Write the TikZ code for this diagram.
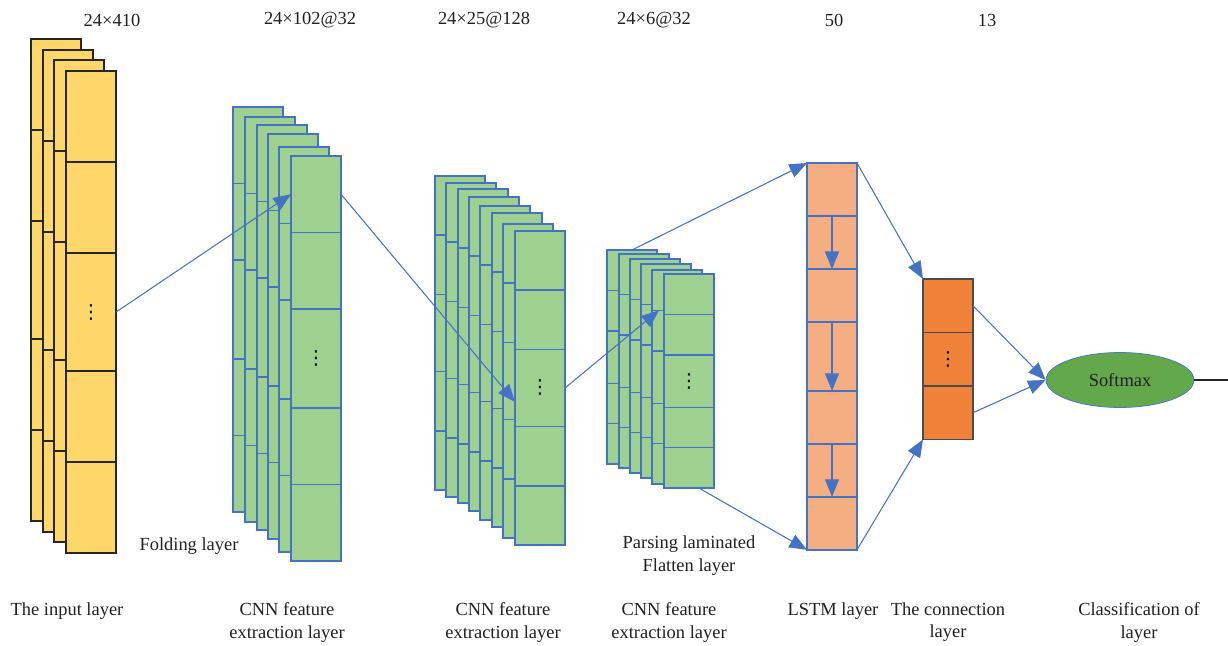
\documentclass[tikz,border=0pt]{standalone}
\usepackage{fontspec}
\setmainfont{Liberation Serif}
\newfontfamily\dotsfont{DejaVu Sans}
\usepackage{tikz}
\usetikzlibrary{arrows.meta,positioning,calc,shapes.geometric}
\definecolor{inputfill}{HTML}{FDD76A}
\definecolor{cnnfill}{HTML}{9ED08F}
\definecolor{cnnline}{HTML}{4472C4}
\definecolor{lstmfill}{HTML}{F4AE82}
\definecolor{connfill}{HTML}{EF8238}
\definecolor{softfill}{HTML}{64A84C}
\definecolor{labeltext}{HTML}{231F20}

\tikzset{
  cell/.style={draw,rectangle,minimum width=1cm,inner sep=0pt,outer sep=0pt,line width=0.9pt},
  inputcell/.style={cell,fill=inputfill,draw=black!85},
  cnncell/.style={cell,fill=cnnfill,draw=cnnline},
  lstmcell/.style={cell,fill=lstmfill,draw=cnnline,line width=0.8pt},
  conncell/.style={cell,fill=connfill,draw=black!70,line width=0.8pt},
  link/.style={draw=cnnline,line width=0.6pt,-{Triangle[length=10pt,width=8pt]}},
  txt/.style={font=\fontsize{10.5}{13}\selectfont,text=labeltext,align=center,inner sep=0pt},
}

\newcommand{\celldots}{{\dotsfont\fontsize{11}{11}\selectfont ⋮}}

% one sheet: five cells, the middle one taller
\newcommand{\featsheet}[5]{%
  \node[#4,minimum height=#3cm,anchor=north west] (#1-1) at #2 {};
  \node[#4,minimum height=#3cm,below=0pt of #1-1] (#1-2) {};
  \node[#4,minimum height=1.3*#3cm,below=0pt of #1-2] (#1-3) {#5};
  \node[#4,minimum height=#3cm,below=0pt of #1-3] (#1-4) {};
  \node[#4,minimum height=#3cm,below=0pt of #1-4] (#1-5) {};
}

\begin{document}
\begin{tikzpicture}[x=0.02cm,y=-0.02cm]
\useasboundingbox (0,0) rectangle (1228,646);

% input layer
\foreach \n/\x/\y in {1/31/39,2/43/50,3/54/60} {\featsheet{in\n}{(\x,\y)}{1.82}{inputcell}{}}
\featsheet{in4}{(66,71)}{1.82}{inputcell}{\celldots}

% CNN layers
\foreach \n/\x/\y in {1/233/107,2/245/117,3/257/125,4/268/134,5/279/147} {\featsheet{ca\n}{(\x,\y)}{1.528}{cnncell}{}}
\featsheet{ca6}{(291,156)}{1.528}{cnncell}{\celldots}
\foreach \n/\x/\y in {1/435/176,2/446/183,3/458/189,4/469/197,5/480/206,6/492/213,7/503/224} {\featsheet{cb\n}{(\x,\y)}{1.185}{cnncell}{}}
\featsheet{cb8}{(515,231)}{1.185}{cnncell}{\celldots}
\foreach \n/\x/\y in {1/607/250,2/619/254,3/630/259,4/641/264,5/652/270} {\featsheet{cc\n}{(\x,\y)}{0.808}{cnncell}{}}
\featsheet{cc6}{(664,274)}{0.808}{cnncell}{\celldots}

% LSTM layer
\node[lstmcell,minimum height=1.06cm,anchor=north west] (lstm-1) at (807,163) {};
\node[lstmcell,minimum height=1.06cm,below=0pt of lstm-1] (lstm-2) {};
\node[lstmcell,minimum height=1.06cm,below=0pt of lstm-2] (lstm-3) {};
\node[lstmcell,minimum height=1.378cm,below=0pt of lstm-3] (lstm-4) {};
\node[lstmcell,minimum height=1.06cm,below=0pt of lstm-4] (lstm-5) {};
\node[lstmcell,minimum height=1.06cm,below=0pt of lstm-5] (lstm-6) {};
\node[lstmcell,minimum height=1.06cm,below=0pt of lstm-6] (lstm-7) {};

% connection layer
\node[conncell,minimum height=1.07cm,anchor=north west] (conn-1) at (923,279) {};
\node[conncell,minimum height=1.07cm,below=0pt of conn-1] (conn-2) {\celldots};
\node[conncell,minimum height=1.07cm,below=0pt of conn-2] (conn-3) {};

\node[ellipse,draw=cnnline,fill=softfill,minimum width=2.96cm,minimum height=1.1cm,txt] (soft) at (1120,380) {Softmax};
\coordinate (out) at (1228,380);

\draw[link] (in4-3.east) -- (ca6-1.west);
\draw[link] (ca6-1.east) -- ($(cb8-3.west)+(0,14)$);
\draw[link] (cb8-3.east) -- ($(cc6-1.south west)+(-5,-4)$);
\draw[link] (cc1-1.north) -- (lstm-1.north west);
\draw[link] ($(cc6-5.south)+(10,0)$) -- (lstm-7.south west);
\draw[link] (lstm-2.north) -- (lstm-2.south);
\draw[link] (lstm-4.north) -- (lstm-4.south);
\draw[link] (lstm-6.north) -- (lstm-6.south);
\draw[link] (lstm-1.north east) -- (conn-1.north west);
\draw[link] (lstm-7.south east) -- (conn-3.south west);
\draw[link] (conn-1.east) -- (soft.west);
\draw[link] (conn-3.east) -- (soft.west);
\draw[black!85,line width=0.6pt] (soft.east) -- (out);

% sizes
\node[txt] (dim-in) at (112,20) {24×410};
\node[txt] (dim-ca) at (310,20) {24×102@32};
\node[txt] (dim-cb) at (484,20) {24×25@128};
\node[txt] (dim-cc) at (654,20) {24×6@32};
\node[txt] (dim-lstm) at (834,20) {50};
\node[txt] (dim-conn) at (987,20) {13};

% captions
\node[txt] (cap-fold) at (189,546) {Folding layer};
\node[txt] (cap-flat) at (689,556) {Parsing laminated\\Flatten layer};
\node[txt,anchor=north] (cap-in) at (67,602) {The input layer};
\node[txt,anchor=north] (cap-ca) at (287,602) {CNN feature\\extraction layer};
\node[txt,anchor=north] (cap-cb) at (503,602) {CNN feature\\extraction layer};
\node[txt,anchor=north] (cap-cc) at (669,602) {CNN feature\\extraction layer};
\node[txt,anchor=north] (cap-lstm) at (833,602) {LSTM layer};
\node[txt,anchor=north] (cap-conn) at (948,602) {The connection\\layer};
\node[txt,anchor=north] (cap-cls) at (1139,602) {Classification of\\layer};
\end{tikzpicture}
\end{document}
